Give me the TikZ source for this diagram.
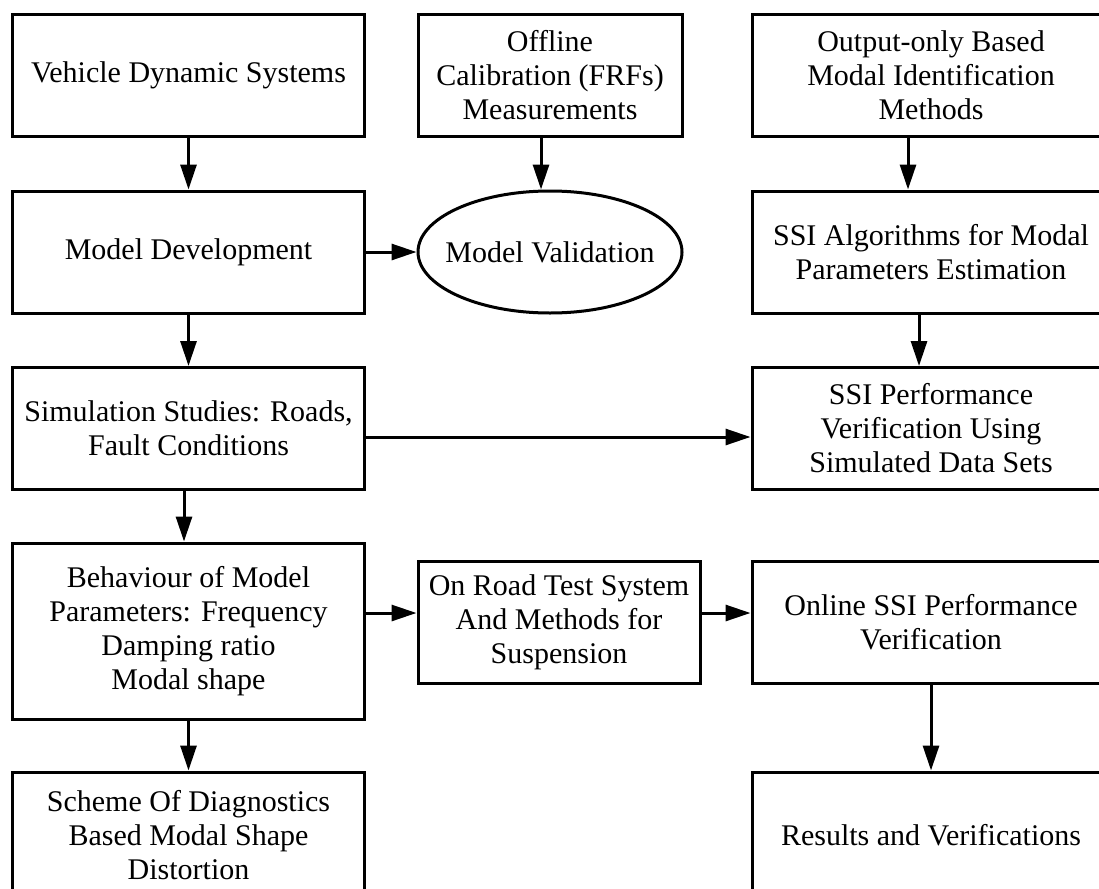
\documentclass[tikz,border=0pt]{standalone}
\usepackage{fontspec}
\setmainfont{Liberation Serif}
\usetikzlibrary{arrows.meta,shapes.geometric}
\begin{document}
\begin{tikzpicture}[x=1pt,y=-1pt,
  box/.style={draw,line width=3pt,rectangle,inner sep=0pt,align=center,font=\fontsize{30}{34}\selectfont},
  oval/.style={draw,line width=3pt,ellipse,inner xsep=-25pt,inner ysep=0pt,align=center,font=\fontsize{30}{34}\selectfont},
  arr/.style={line width=3pt,-{Triangle[length=25pt,width=16pt]}}]
\useasboundingbox (0,0) rectangle (1099,888);
\clip (0,0) rectangle (1099,888);
% row 1
\node[box,minimum width=352pt,minimum height=122pt] (vds) at (188.5,75.5) {Vehicle Dynamic Systems};
\node[box,minimum width=264pt,minimum height=122pt] (off) at (550,75.5) {Offline\\Calibration (FRFs)\\Measurements};
\node[box,minimum width=358pt,minimum height=122pt] (out) at (931,75.5) {Output-only Based\\Modal Identification\\Methods};
% row 2
\node[box,minimum width=352pt,minimum height=122pt] (dev) at (188.5,252) {Model Development};
\node[oval,minimum width=264pt,minimum height=122pt] (val) at (550,252) {Model Validation};
\node[box,minimum width=358pt,minimum height=122pt] (alg) at (931,252) {SSI Algorithms for Modal\\Parameters Estimation};
% row 3
\node[box,minimum width=352pt,minimum height=122pt] (sim) at (188.5,428.5) {Simulation Studies: Roads,\\Fault Conditions};
\node[box,minimum width=358pt,minimum height=122pt] (perf) at (931,428.5) {SSI Performance\\Verification Using\\Simulated Data Sets};
% row 4
\node[box,minimum width=352pt,minimum height=176pt] (beh) at (188.5,631) {Behaviour of Model\\Parameters: Frequency\\Damping ratio\\Modal shape};
\node[box,minimum width=282pt,minimum height=122pt] (road) at (559,622) {On Road Test System\\And Methods for\\Suspension};
\node[box,minimum width=358pt,minimum height=122pt] (onl) at (931,622) {Online SSI Performance\\Verification};
% row 5
\node[box,minimum width=352pt,minimum height=126pt] (sch) at (188.5,835) {Scheme Of Diagnostics\\Based Modal Shape\\Distortion};
\node[box,minimum width=358pt,minimum height=126pt] (res) at (931,835) {Results and Verifications};
% vertical arrows
\draw[arr] (vds.south) -- (dev.north);
\draw[arr] (dev.south) -- (sim.north);
\draw[arr] ([xshift=-4.5pt]sim.south) -- ([xshift=-4.5pt]beh.north);
\draw[arr] (beh.south) -- (sch.north);
\draw[arr] ([xshift=-9pt]off.south) -- ([xshift=-9pt]val.north);
\draw[arr] ([xshift=-23pt]out.south) -- ([xshift=-23pt]alg.north);
\draw[arr] ([xshift=-12pt]alg.south) -- ([xshift=-12pt]perf.north);
\draw[arr] (onl.south) -- (res.north);
% horizontal arrows
\draw[arr] (dev.east) -- (val.west);
\draw[arr] ([yshift=-8.5pt]sim.east) -- ([yshift=-8.5pt]perf.west);
\coordinate (lvl) at ([yshift=9pt]road.west);
\draw[arr] (beh.east |- lvl) -- (lvl);
\draw[arr] ([yshift=9pt]road.east) -- ([yshift=9pt]onl.west);
\end{tikzpicture}
\end{document}
